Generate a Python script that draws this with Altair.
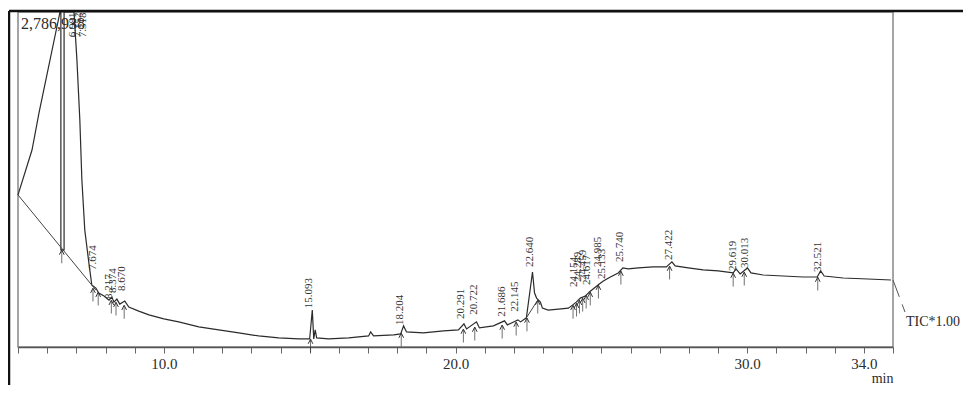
import altair as alt
import pandas as pd

# ---- chromatogram trace (retention time in min, intensity as % of full scale) ----
TRACE_T = [5.00, 5.48, 5.72, 6.44, 6.47, 6.47, 6.58, 6.58, 6.92, 7.02, 7.12, 7.19, 7.29, 7.43, 7.53,
           7.67, 7.77, 7.95, 8.12, 8.22, 8.29, 8.39, 8.49, 8.66, 8.80, 9.14, 9.49, 10.00, 10.51,
           11.20, 11.88, 12.57, 13.25, 13.94, 14.62, 15.00, 15.09, 15.14, 15.19, 15.24, 15.65,
           16.34, 17.02, 17.09, 17.19, 17.88, 18.12, 18.22, 18.32, 18.90, 19.59, 20.10, 20.29,
           20.38, 20.72, 20.82, 21.30, 21.68, 21.78, 22.14, 22.23, 22.43, 22.64, 22.71, 22.78,
           22.91, 22.98, 23.18, 23.53, 23.87, 24.01, 24.14, 24.28, 24.45, 24.59, 24.76, 24.93,
           25.07, 25.31, 25.58, 25.74, 25.92, 26.27, 26.78, 27.23, 27.42, 27.53, 27.98, 28.49,
           29.01, 29.52, 29.62, 29.76, 30.01, 30.13, 30.55, 31.23, 31.92, 32.40, 32.52, 32.64,
           33.29, 34.14, 34.93]
TRACE_V = [45.4, 58.8, 69.9, 100.0, 100.0, 29.0, 29.0, 100.0, 100.0, 85.7, 67.8, 49.9, 34.9, 25.1, 18.5,
           17.6, 16.1, 15.2, 14.0, 14.9, 13.4, 14.3, 12.8, 13.7, 11.9, 10.7, 9.6, 8.4, 7.5,
           6.0, 5.1, 4.2, 3.3, 2.7, 2.4, 2.4, 11.0, 2.4, 5.1, 2.7, 2.4,
           2.7, 3.3, 4.5, 3.3, 3.6, 3.9, 6.3, 4.5, 4.2, 4.8, 5.1, 6.9,
           5.4, 7.5, 5.7, 6.3, 7.8, 6.6, 8.1, 7.5, 8.7, 22.4, 16.1, 14.6,
           13.4, 11.6, 11.0, 11.3, 11.6, 12.5, 13.4, 14.6, 15.2, 16.4, 17.6, 18.8,
           19.7, 20.9, 22.1, 23.6, 23.3, 23.6, 23.9, 23.9, 25.4, 24.2, 23.6, 23.0,
           22.7, 22.1, 23.3, 21.8, 23.6, 22.1, 21.5, 21.2, 20.9, 20.9, 22.7, 21.2,
           20.6, 20.3, 20.0]

# ---- labelled peaks ----
PEAK_T = [6.981, 7.152, 7.318, 7.674, 8.217, 8.374, 8.670, 15.093, 18.204, 20.291, 20.722,
          21.686, 22.145, 22.640, 24.154, 24.289, 24.459, 24.617, 24.985, 25.133, 25.740,
          27.422, 29.619, 30.013, 32.521]
PEAK_V = [91.6, 91.6, 91.6, 22.1, 13.4, 15.2, 15.8, 10.7, 5.7, 7.5, 8.7,
          8.1, 9.6, 23.0, 17.0, 18.5, 19.1, 17.6, 23.0, 19.4, 24.5,
          25.1, 21.8, 22.7, 21.5]

# ---- peak start/end markers ----
ARROW_T = [6.50, 7.57, 7.75, 8.20, 8.36, 8.64, 15.03, 18.14, 20.27, 20.66, 21.60, 22.08, 22.45,
           22.82, 24.03, 24.15, 24.25, 24.36, 24.48, 24.62, 24.90, 25.67, 27.34, 29.52, 29.90, 32.42]
ARROW_V = [29.0, 17.6, 16.4, 14.0, 13.4, 12.5, 2.4, 4.2, 5.4, 6.0, 6.6, 7.5, 8.7,
           14.0, 12.5, 13.1, 14.0, 14.6, 15.5, 16.4, 18.5, 22.7, 24.2, 22.1, 22.4, 20.9]

# ---- integration baselines ----
BASE_T1 = [5.00, 22.43]
BASE_V1 = [45.4, 8.7]
BASE_T2 = [7.67, 22.82]
BASE_V2 = [17.0, 14.0]

TICK_VALUES = [5, 6, 7, 8, 9, 10, 11, 12, 13, 14, 15, 16, 17, 18, 19, 20, 21, 22, 23, 24, 25,
               26, 27, 28, 29, 30, 31, 32, 33, 34, 35]
TICK_LABELS = [10, 20, 30, 34]
MAX_LABEL = "2,786,938"
TRACE_NAME = "TIC*1.00"
X_TITLE = "min"

SERIF = "Liberation Serif"
INK = "#2b2b2b"

trace_df = pd.DataFrame({"t": TRACE_T, "v": TRACE_V, "i": list(range(len(TRACE_T)))})
peak_df = pd.DataFrame({"t": PEAK_T, "v": PEAK_V, "label": [f"{p:.3f}" for p in PEAK_T]})
arrow_df = pd.DataFrame({"t": ARROW_T, "v": ARROW_V})
base_df = pd.DataFrame({"t1": BASE_T1, "v1": BASE_V1, "t2": BASE_T2, "v2": BASE_V2})
one = pd.DataFrame({"a": [0]})

label_expr = "(" + " || ".join(f"datum.value == {v}" for v in TICK_LABELS) + \
    ") ? format(datum.value, '.1f') : ''"

xscale = alt.Scale(domain=[5, 35], nice=False, zero=False)
yscale = alt.Scale(domain=[0, 100], nice=False, zero=False)

xaxis = alt.Axis(values=TICK_VALUES, labelExpr=label_expr, title=X_TITLE, titleAnchor="end",
                 titleFont=SERIF, titleFontSize=14, titleFontWeight="normal", titleColor=INK,
                 titlePadding=0, labelFont=SERIF, labelFontSize=15, labelColor=INK,
                 tickSize=6, tickColor="#666", domainColor="#555", domainWidth=1.5,
                 grid=False, labelPadding=3, labelOverlap=False, labelFlush=False, labelBound=False)

X = lambda f: alt.X(f, scale=xscale, axis=xaxis)
Y = lambda f: alt.Y(f, scale=yscale, axis=None)

trace = alt.Chart(trace_df).mark_line(color=INK, strokeWidth=1.2).encode(
    x=X("t:Q"), y=Y("v:Q"), order="i:Q",
)

baselines = alt.Chart(base_df).mark_rule(color="#444", strokeWidth=1).encode(
    x=X("t1:Q"), y=Y("v1:Q"), x2="t2:Q", y2="v2:Q",
)

arrow_stems = alt.Chart(arrow_df).mark_tick(orient="vertical", size=13, thickness=1,
                                            yOffset=7, color="#333").encode(
    x=X("t:Q"), y=Y("v:Q"))
arrow_heads = alt.Chart(arrow_df).mark_point(shape="M-1,1L0,-1L1,1", filled=False, size=22,
                                             strokeWidth=1, yOffset=2.5, color="#333",
                                             opacity=1).encode(
    x=X("t:Q"), y=Y("v:Q"))

labels = alt.Chart(peak_df).mark_text(angle=270, align="left", baseline="middle", dx=3, dy=-3,
                                      font=SERIF, fontSize=11, color="#333").encode(
    x=X("t:Q"), y=Y("v:Q"), text="label:N",
)

max_text = alt.Chart(one).mark_text(text=MAX_LABEL, font=SERIF, fontSize=16, align="left",
                                    baseline="alphabetic", color=INK).encode(
    x=alt.value(3), y=alt.value(17))

tic_text = alt.Chart(one).mark_text(text=TRACE_NAME, font=SERIF, fontSize=14, align="left",
                                    baseline="middle", color=INK).encode(
    x=alt.value(888), y=alt.value(310))

leader = alt.Chart(one).mark_rule(color="#555", strokeWidth=1, strokeDash=[18, 8]).encode(
    x=alt.value(875), y=alt.value(268), x2=alt.value(887), y2=alt.value(300))

frame_top = alt.Chart(one).mark_rule(color="#111", strokeWidth=2.5).encode(
    x=alt.value(-9), x2=alt.value(945), y=alt.value(-1))
frame_left = alt.Chart(one).mark_rule(color="#111", strokeWidth=2.5).encode(
    x=alt.value(-9), y=alt.value(-1), y2=alt.value(380))

chart = alt.layer(trace, baselines, arrow_stems, arrow_heads, labels, max_text, tic_text,
                  leader, frame_top, frame_left).properties(
    width=875, height=335,
    autosize=alt.AutoSizeParams(type="none"),
    padding={"left": 10, "top": 4, "right": 70, "bottom": 38},
    background="white",
).configure_view(stroke="#888", strokeWidth=1.5).configure_axis(labelOverlap=False)

chart.save("out.html", embed_options={"renderer": "svg", "actions": False})
